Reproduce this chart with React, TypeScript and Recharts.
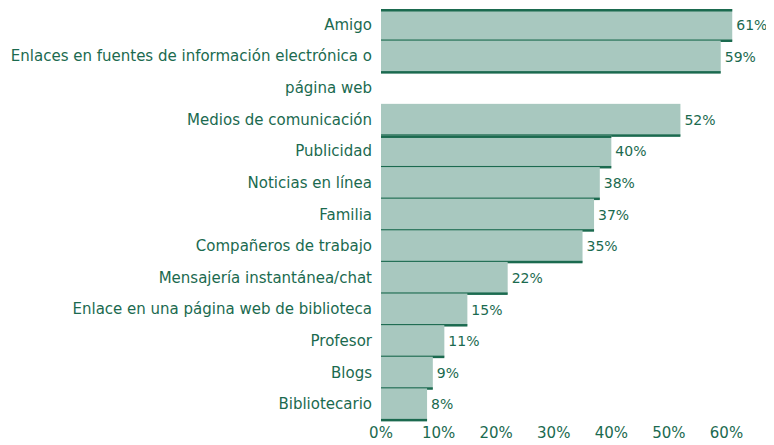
import { BarChart, Bar, XAxis, YAxis, LabelList } from "recharts";

// "" marks the empty row taken by the wrapped second line of the long label
const categories = [
  "Amigo",
  "Enlaces en fuentes de información electrónica o página web",
  "",
  "Medios de comunicación",
  "Publicidad",
  "Noticias en línea",
  "Familia",
  "Compañeros de trabajo",
  "Mensajería instantánea/chat",
  "Enlace en una página web de biblioteca",
  "Profesor",
  "Blogs",
  "Bibliotecario",
];
const percentages: (number | null)[] = [61, 59, null, 52, 40, 38, 37, 35, 22, 15, 11, 9, 8];
const xTicks = [0, 10, 20, 30, 40, 50, 60];

const data = categories.map((name, i) => ({ name, value: percentages[i] }));

const GREEN = "#1b6a4f";
const FILL = "#a8c8bf";
const FONT = "'DejaVu Sans', sans-serif";

function wrap(text: string, max: number) {
  const lines: string[] = [];
  let cur = "";
  for (const w of text.split(" ")) {
    const next = cur ? cur + " " + w : w;
    if (next.length > max && cur) {
      lines.push(cur);
      cur = w;
    } else cur = next;
  }
  if (cur) lines.push(cur);
  return lines;
}

function CategoryTick({ x, y, payload }: any) {
  const lines = wrap(payload.value || "", 47);
  return (
    <text x={x} y={y} textAnchor="end" fill={GREEN} fontSize={15} fontFamily={FONT}>
      {lines.map((l, i) => (
        <tspan key={i} x={x} dy={i === 0 ? 5 : 32}>
          {l}
        </tspan>
      ))}
    </text>
  );
}

function BarShape({ x, y, width, height, index }: any) {
  if (!width || width <= 0) return null;
  const topLine = index === 0 || percentages[index - 1] == null;
  return (
    <g>
      <rect x={x} y={y} width={width} height={height} fill={FILL} />
      {topLine && <rect x={x} y={y} width={width} height={2.5} fill={GREEN} />}
      <rect x={x} y={y + height - 1.5} width={width} height={2.5} fill={GREEN} />
    </g>
  );
}

export default function App() {
  return (
    <BarChart
      width={766}
      height={437}
      data={data}
      layout="vertical"
      margin={{ top: 1, right: 36, bottom: 0, left: 0 }}
      barCategoryGap={0}
      style={{ overflow: "visible" }}
    >
      <XAxis
        type="number"
        domain={[0, 62]}
        ticks={xTicks}
        tickFormatter={(v) => `${v}%`}
        axisLine={false}
        tickLine={false}
        tickSize={0}
        tickMargin={7}
        height={25}
        tick={{ fill: GREEN, fontSize: 15, fontFamily: FONT }}
      />
      <YAxis
        type="category"
        dataKey="name"
        width={373}
        axisLine={false}
        tickLine={false}
        tickSize={0}
        tickMargin={9}
        interval={0}
        tick={<CategoryTick />}
      />
      <Bar dataKey="value" isAnimationActive={false} shape={<BarShape />}>
        <LabelList
          dataKey="value"
          position="right"
          offset={4}
          formatter={(v: any) => (v == null ? "" : `${v}%`)}
          fill={GREEN}
          fontSize={14}
          fontFamily={FONT}
        />
      </Bar>
    </BarChart>
  );
}
